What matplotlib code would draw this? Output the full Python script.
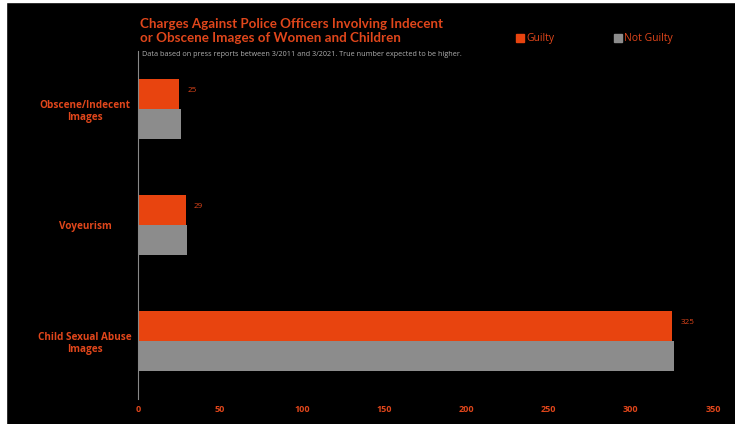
import matplotlib
matplotlib.use("Agg")
import matplotlib.pyplot as plt
import numpy as np
from matplotlib.patches import Rectangle

categories = ["Obscene/Indecent\nImages", "Voyeurism", "Child Sexual Abuse\nImages"]
guilty = [25, 29, 325]
not_guilty = [26, 30, 326]
xticks = [0, 50, 100, 150, 200, 250, 300, 350]

ORANGE = "#e8440f"
GREY = "#8c8c8c"
TXT = "#e0461b"
FONT = ["Open Sans", "DejaVu Sans"]
TFONT = ["Lato", "DejaVu Sans"]

fig = plt.figure(figsize=(7.35, 4.24), dpi=100)
fig.patch.set_facecolor("black")
fig.patches.append(Rectangle((0, 0), 6/735, 1, transform=fig.transFigure, color="white", zorder=-1))
fig.patches.append(Rectangle((0, 422/424), 1, 2/424, transform=fig.transFigure, color="white", zorder=-1))

ax = fig.add_axes([138/735, 1 - 399/424, 575/735, 348/424])
ax.set_facecolor("black")

y = np.arange(len(categories))
h = 0.259
ax.barh(y - h/2, guilty, height=h, color=ORANGE)
ax.barh(y + h/2, not_guilty, height=h, color=GREY)

for yi, v in zip(y, guilty):
    ax.text(v + 5, yi - h/2 - 0.03, str(v), color=TXT, fontsize=5.8, va="center", ha="left", family=FONT)

ax.set_xlim(0, 350)
ax.set_ylim(2.5, -0.5)
ax.set_xticks(xticks)
ax.set_xticklabels([str(t) for t in xticks], color=TXT, fontsize=6.5, fontweight="bold", family=FONT)
ax.set_yticks(y)
ax.set_yticklabels(categories, color=TXT, fontsize=7.2, fontweight="bold", family=FONT, ha="center", multialignment="center")
ax.tick_params(axis="y", length=0, pad=38)
ax.tick_params(axis="x", length=0, pad=4)

for s in ["top", "right", "bottom"]:
    ax.spines[s].set_visible(False)
ax.spines["left"].set_color("#888888")
ax.spines["left"].set_linewidth(0.8)

fig.text(140/735, 1 - 18/424, "Charges Against Police Officers Involving Indecent\nor Obscene Images of Women and Children",
         color=TXT, fontsize=9.6, fontweight="bold", family=TFONT, ha="left", va="top", linespacing=1.25)
fig.text(142/735, 1 - 54/424, "Data based on press reports between 3/2011 and 3/2021. True number expected to be higher.",
         color="#b0b0b0", fontsize=5.2, family=FONT, ha="left", va="center")

# legend
fig.patches.append(Rectangle((516/735, 1 - 42/424), 8/735, 8/424, transform=fig.transFigure, color=ORANGE))
fig.text(526/735, 1 - 38/424, "Guilty", color=TXT, fontsize=7.5, family=FONT, ha="left", va="center")
fig.patches.append(Rectangle((614/735, 1 - 42/424), 8/735, 8/424, transform=fig.transFigure, color=GREY))
fig.text(624/735, 1 - 38/424, "Not Guilty", color=TXT, fontsize=7.5, family=FONT, ha="left", va="center")

fig.savefig("out.png", dpi=100, facecolor=fig.get_facecolor())
